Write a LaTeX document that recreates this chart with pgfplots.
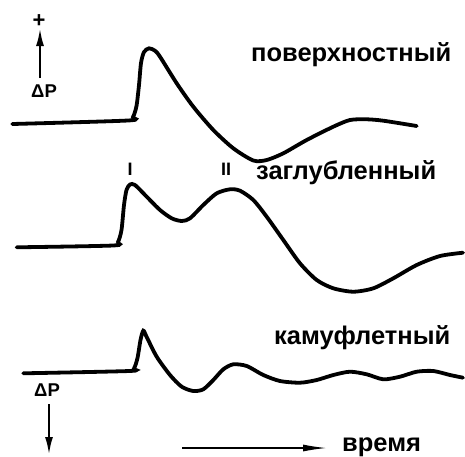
\documentclass[border=0pt]{standalone}
\usepackage{pgfplots}
\pgfplotsset{compat=1.18}
\usepackage{fontspec}
\setmainfont{Liberation Sans}
\usetikzlibrary{arrows.meta}
\begin{document}
\begin{tikzpicture}
\begin{axis}[hide axis, scale only axis, width=465pt, height=456pt,
  xmin=0, xmax=465, ymin=0, ymax=456, y dir=reverse, clip=false]
\addplot[black, line width=3.8pt, smooth, tension=0.45, line cap=round] coordinates {
(12.3,124) (128,120.5) (133,117) (136.5,106) (139,85) (141,63) (144,52) (149,48.3) (155,50.7) (160,56.7) (176.7,83.3) (193.3,106.7) (213.3,130) (233.3,148.3) (253.3,160.5) (266.7,160) (283.3,153.3) (306.7,140) (333.3,126.7) (350,120) (366.7,119.3) (383.3,120.7) (416.7,126)};
\addplot[black, line width=3.8pt, smooth, tension=0.45, line cap=round] coordinates {
(16.7,247.3) (113,245.5) (118,242) (121.5,230) (124,205) (126.5,190) (130,184.5) (135,185) (146.7,196.7) (160,210) (171.7,218.3) (181.7,221) (190,218.3) (203.3,205) (216.7,193.3) (230,189.3) (240,190.7) (253.3,200) (266.7,216.7) (283.3,240) (300,263.3) (316.7,280) (333.3,288.3) (353.3,291.7) (373.3,288.3) (393.3,278.3) (416.7,265) (440,256) (463,252.7)};
\addplot[black, line width=3.8pt, smooth, tension=0.45, line cap=round] coordinates {
(23.3,373.3) (129,371) (134,368.5) (137.5,358) (140.5,340) (143.3,330.7) (146.7,337) (156.7,356.7) (170,375) (181.7,386.7) (193.3,391) (203.3,389.3) (213.3,380) (223.3,369.3) (233.3,364.3) (246.7,366) (263.3,375) (280,381) (300,382.7) (316.7,380) (333.3,375) (350,371.7) (366.7,374.3) (383.3,379.3) (400,376.7) (416.7,371.7) (433.3,371) (450,375) (463,377.7)};
\node[font=\bfseries\fontsize{25.5}{25.5}\selectfont, anchor=west, inner sep=0] at (axis cs:251,55) {поверхностный};
\node[font=\bfseries\fontsize{25.5}{25.5}\selectfont, anchor=west, inner sep=0] at (axis cs:256,173) {заглубленный};
\node[font=\bfseries\fontsize{25.5}{25.5}\selectfont, anchor=west, inner sep=0] at (axis cs:274,338) {камуфлетный};
\node[font=\bfseries\fontsize{25.5}{25.5}\selectfont, anchor=west, inner sep=0] at (axis cs:342,447) {время};
\node[font=\bfseries\fontsize{18}{18}\selectfont, inner sep=0] at (axis cs:130,169) {I};
\node[font=\bfseries\fontsize{18}{18}\selectfont, inner sep=0] at (axis cs:226,169) {II};
\node[font=\bfseries\fontsize{18.5}{18.5}\selectfont, anchor=west, inner sep=0] at (axis cs:31,91) {ΔP};
\node[font=\bfseries\fontsize{18.5}{18.5}\selectfont, anchor=west, inner sep=0] at (axis cs:34,390) {ΔP};
\node[font=\bfseries\fontsize{22}{22}\selectfont, inner sep=0] at (axis cs:39,21) {+};
\draw[line width=1.8pt, -{Latex[length=17pt,width=8pt]}] (axis cs:40,78) -- (axis cs:40,29);
\draw[line width=1.8pt, -{Latex[length=17pt,width=8pt]}] (axis cs:49,404) -- (axis cs:49,454);
\draw[line width=1.5pt, -{Latex[length=24pt,width=7pt]}] (axis cs:182,448) -- (axis cs:327,448);
\end{axis}
\pgfresetboundingbox
\path[use as bounding box] (current axis.south west) rectangle (current axis.north east);
\end{tikzpicture}
\end{document}
